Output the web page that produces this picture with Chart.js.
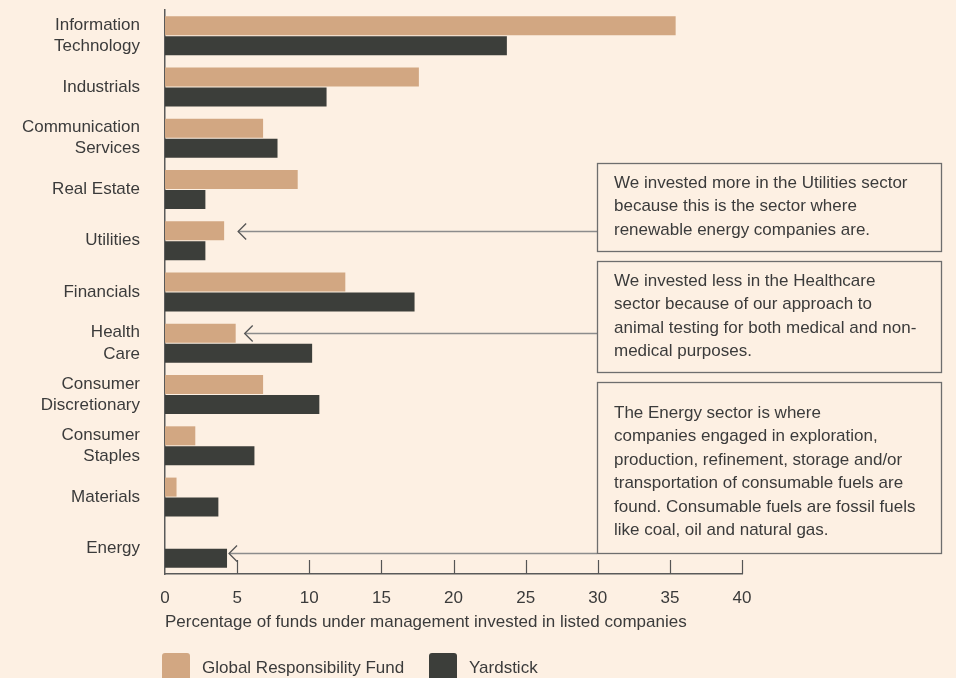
<!DOCTYPE html>
<html>
<head>
<meta charset="utf-8">
<script src="https://cdn.jsdelivr.net/npm/chart.js@4"></script>
<style>
  html, body { margin: 0; padding: 0; background: #fdf0e3; overflow: hidden; }
  canvas { display: block; }
</style>
</head>
<body>
<canvas id="sectorChart" width="956" height="690"></canvas>
<script>
// data
const sectors = [
  ['Information', 'Technology'], 'Industrials', ['Communication', 'Services'],
  'Real Estate', 'Utilities', 'Financials', ['Health', 'Care'],
  ['Consumer', 'Discretionary'], ['Consumer', 'Staples'], 'Materials', 'Energy'
];
const globalFund = [35.4, 17.6, 6.8, 9.2, 4.1, 12.5, 4.9, 6.8, 2.1, 0.8, 0];
const yardstick = [23.7, 11.2, 7.8, 2.8, 2.8, 17.3, 10.2, 10.7, 6.2, 3.7, 4.3];
const seriesNames = ['Global Responsibility Fund', 'Yardstick'];
const axisTitle = 'Percentage of funds under management invested in listed companies';

const noteTexts = [
  ['We invested more in the Utilities sector', 'because this is the sector where', 'renewable energy companies are.'],
  ['We invested less in the Healthcare', 'sector because of our approach to', 'animal testing for both medical and non-', 'medical purposes.'],
  ['The Energy sector is where', 'companies engaged in exploration,', 'production, refinement, storage and/or',
   'transportation of consumable fuels are', 'found. Consumable fuels are fossil fuels', 'like coal, oil and natural gas.']
];

const textColor = '#3b3b3b';
const tan = '#d2a782';
const dark = '#3c3e3a';
const font = "'Liberation Sans', Arial, sans-serif";

// where the notes sit and which bar each arrow points at
const notes = [
  { text: noteTexts[0], sector: 4, ds: 0, gap: 14, dy: 0, box: [597, 163, 344, 88], textTop: 183 },
  { text: noteTexts[1], sector: 6, ds: 0, gap: 9, dy: 0, box: [597, 261, 344, 111], textTop: 281 },
  { text: noteTexts[2], sector: 10, ds: 1, gap: 2, dy: -5, box: [597, 382, 344, 171], textTop: 413 }
];

const notesPlugin = {
  id: 'notes',
  afterDatasetsDraw(chart) {
    const ctx = chart.ctx;
    const x = chart.scales.x;
    const area = chart.chartArea;
    ctx.save();

    // small tick marks pointing up from the axis
    ctx.strokeStyle = '#555';
    ctx.lineWidth = 1.2;
    x.ticks.forEach(t => {
      if (t.value <= 0) return;
      const px = Math.round(x.getPixelForValue(t.value)) + 0.5;
      ctx.beginPath();
      ctx.moveTo(px, area.bottom);
      ctx.lineTo(px, area.bottom - 14);
      ctx.stroke();
    });

    // annotation boxes + arrows
    notes.forEach(n => {
      const bar = chart.getDatasetMeta(n.ds).data[n.sector];
      const vals = n.ds === 0 ? globalFund : yardstick;
      const tipX = x.getPixelForValue(vals[n.sector]) + n.gap;
      const y = Math.round(bar.y + n.dy) + 0.5;
      const [bx, by, bw, bh] = n.box;

      ctx.strokeStyle = '#8c8c8c';
      ctx.lineWidth = 1.3;
      ctx.beginPath();
      ctx.moveTo(tipX, y);
      ctx.lineTo(bx, y);
      ctx.stroke();
      ctx.strokeStyle = '#555';
      ctx.beginPath();
      ctx.moveTo(tipX + 8, y - 8);
      ctx.lineTo(tipX, y);
      ctx.lineTo(tipX + 8, y + 8);
      ctx.stroke();

      ctx.strokeStyle = '#6e6e6e';
      ctx.lineWidth = 1.3;
      ctx.strokeRect(bx + 0.5, by + 0.5, bw, bh);

      ctx.fillStyle = textColor;
      ctx.font = '17px ' + font;
      ctx.textAlign = 'left';
      ctx.textBaseline = 'middle';
      n.text.forEach((line, i) => ctx.fillText(line, bx + 17, n.textTop + i * 23.5));
    });

    // legend
    const items = [{ x: 162, color: tan, label: seriesNames[0] }, { x: 429, color: dark, label: seriesNames[1] }];
    items.forEach(it => {
      ctx.fillStyle = it.color;
      ctx.beginPath();
      ctx.roundRect(it.x, 653, 28, 30, 3);
      ctx.fill();
      ctx.fillStyle = textColor;
      ctx.font = '17px ' + font;
      ctx.textAlign = 'left';
      ctx.textBaseline = 'middle';
      ctx.fillText(it.label, it.x + 40, 668);
    });
    ctx.restore();
  }
};

new Chart(document.getElementById('sectorChart'), {
  type: 'bar',
  data: {
    labels: sectors,
    datasets: [
      { label: seriesNames[0], data: globalFund, backgroundColor: tan, barPercentage: 0.95, categoryPercentage: 0.78 },
      { label: seriesNames[1], data: yardstick, backgroundColor: dark, barPercentage: 0.95, categoryPercentage: 0.78 }
    ]
  },
  options: {
    indexAxis: 'y',
    responsive: false,
    animation: false,
    layout: { padding: { top: 10, right: 214, bottom: 50, left: 0 } },
    plugins: { legend: { display: false }, tooltip: { enabled: false } },
    scales: {
      x: {
        min: 0, max: 40,
        grid: { display: false, drawTicks: false },
        border: { display: true, color: '#5a5a5a', width: 1.5 },
        ticks: { stepSize: 5, padding: 14, color: textColor, font: { family: font, size: 17 } },
        title: {
          display: true, text: axisTitle, align: 'start', color: textColor,
          font: { family: font, size: 17 }, padding: { top: 0, bottom: 7 }
        },
        afterFit: s => { s.height = 66; }
      },
      y: {
        grid: { display: false, drawTicks: false },
        border: { display: true, color: '#5a5a5a', width: 1.5 },
        ticks: { padding: 25, color: textColor, font: { family: font, size: 17, lineHeight: 1.24 } },
        afterFit: s => { s.width = 165; s.paddingTop = 0; s.paddingBottom = 0; }
      }
    }
  },
  plugins: [notesPlugin]
});
</script>
</body>
</html>
